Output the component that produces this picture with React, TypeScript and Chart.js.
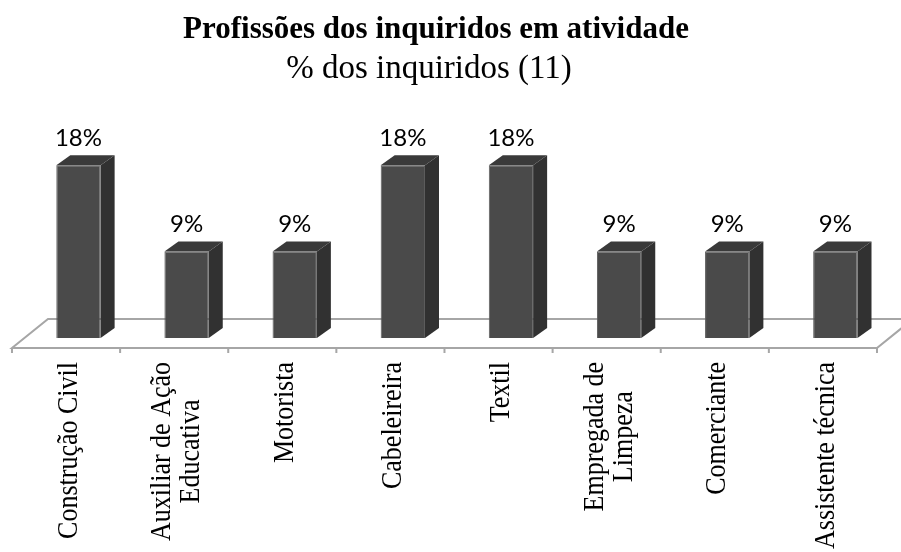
import React, { useEffect, useRef } from "react";
import { Chart, registerables } from "chart.js";

Chart.register(...registerables);

// ---- data ----
const titleText = "Profissões dos inquiridos em atividade";
const subtitleText = "% dos inquiridos (11)";
const categories: string[][] = [
  ["Construção Civil"],
  ["Auxiliar de Ação", "Educativa"],
  ["Motorista"],
  ["Cabeleireira"],
  ["Textil"],
  ["Empregada de", "Limpeza"],
  ["Comerciante"],
  ["Assistente técnica"],
];
const values: number[] = [18, 9, 9, 18, 18, 9, 9, 9];
const valueLabels: string[] = ["18%", "9%", "9%", "18%", "18%", "9%", "9%", "9%"];

// ---- style ----
const FRONT = "#4a4a4a";
const FRONT_EDGE = "#5c5c5c";
const SIDE = "#313131";
const TOP = "#3a3a3a";
const FLOOR = "#a6a6a6";
const BAR_DX = 14;
const BAR_DY = 10;
const FLOOR_FRONT_DY = 10;
const FLOOR_BACK_DY = 19;
const FLOOR_SLOPE = 36 / 29;
const LABEL_STRETCH = 1.12;

const plugin3d = {
  id: "bar3d",
  beforeDatasetsDraw(chart: any) {
    const ctx = chart.ctx;
    const xs = chart.scales.x;
    const ys = chart.scales.y;
    const base = ys.getPixelForValue(0);
    const fy = base + FLOOR_FRONT_DY;
    const by = base - FLOOR_BACK_DY;
    const fShift = -FLOOR_FRONT_DY * FLOOR_SLOPE;
    const bShift = FLOOR_BACK_DY * FLOOR_SLOPE;
    ctx.save();
    ctx.beginPath();
    ctx.moveTo(xs.left + fShift, fy);
    ctx.lineTo(xs.right + fShift, fy);
    ctx.lineTo(xs.right + bShift, by);
    ctx.lineTo(xs.left + bShift, by);
    ctx.closePath();
    ctx.fillStyle = "#ffffff";
    ctx.fill();
    ctx.strokeStyle = FLOOR;
    ctx.lineWidth = 2;
    ctx.stroke();
    // ticks
    const n = categories.length;
    const step = (xs.right - xs.left) / n;
    ctx.beginPath();
    for (let i = 0; i <= n; i++) {
      const x = xs.left + fShift + i * step;
      ctx.moveTo(x, fy);
      ctx.lineTo(x, fy + 5);
    }
    ctx.stroke();
    // category labels
    ctx.fillStyle = "#000";
    ctx.font = "26px 'Liberation Serif'";
    ctx.textAlign = "center";
    ctx.textBaseline = "middle";
    const lineH = 29;
    for (let i = 0; i < n; i++) {
      const lines = categories[i];
      const cx = xs.getPixelForValue(i) + fShift + 3;
      const w = Math.max(...lines.map((l) => ctx.measureText(l).width));
      ctx.save();
      ctx.translate(cx, fy + 14);
      ctx.rotate(-Math.PI / 2);
      ctx.scale(1, LABEL_STRETCH);
      lines.forEach((l, k) => {
        ctx.fillText(l, -w / 2, ((k - (lines.length - 1) / 2) * lineH) / LABEL_STRETCH);
      });
      ctx.restore();
    }
    ctx.restore();
  },
  afterDatasetsDraw(chart: any) {
    const ctx = chart.ctx;
    const meta = chart.getDatasetMeta(0);
    ctx.save();
    meta.data.forEach((el: any, i: number) => {
      const p = el.getProps(["x", "y", "base", "width"], true);
      const l = p.x - p.width / 2;
      const r = p.x + p.width / 2;
      // side
      ctx.beginPath();
      ctx.moveTo(r, p.y);
      ctx.lineTo(r + BAR_DX, p.y - BAR_DY);
      ctx.lineTo(r + BAR_DX, p.base - BAR_DY);
      ctx.lineTo(r, p.base);
      ctx.closePath();
      ctx.fillStyle = SIDE;
      ctx.fill();
      // top
      ctx.beginPath();
      ctx.moveTo(l, p.y);
      ctx.lineTo(l + BAR_DX, p.y - BAR_DY);
      ctx.lineTo(r + BAR_DX, p.y - BAR_DY);
      ctx.lineTo(r, p.y);
      ctx.closePath();
      ctx.fillStyle = TOP;
      ctx.fill();
      // value label
      ctx.fillStyle = "#000";
      ctx.font = "24px Lato";
      ctx.textAlign = "center";
      ctx.textBaseline = "middle";
      ctx.fillText(valueLabels[i], p.x, p.y - 27);
    });
    ctx.restore();
  },
  afterDraw(chart: any) {
    const ctx = chart.ctx;
    ctx.save();
    ctx.fillStyle = "#000";
    ctx.textAlign = "center";
    ctx.textBaseline = "alphabetic";
    ctx.font = "bold 31px 'Liberation Serif'";
    ctx.fillText(titleText, 436, 38);
    ctx.font = "33px 'Liberation Serif'";
    ctx.fillText(subtitleText, 429, 78);
    ctx.restore();
  },
};

export default function App() {
  const ref = useRef<HTMLCanvasElement>(null);
  useEffect(() => {
    if (!ref.current) return;
    const chart = new Chart(ref.current, {
      type: "bar",
      data: {
        labels: categories.map((c) => c.join(" ")),
        datasets: [
          {
            data: values,
            backgroundColor: FRONT,
            borderColor: FRONT_EDGE,
            borderWidth: 1,
            barPercentage: 0.41,
            categoryPercentage: 1,
            clip: false as any,
          },
        ],
      },
      options: {
        animation: false,
        responsive: false,
        devicePixelRatio: 1,
        layout: { padding: { left: 24.4, right: 11.6, top: 146, bottom: 214 } },
        plugins: {
          legend: { display: false },
          tooltip: { enabled: false },
          title: { display: false },
        },
        scales: {
          x: { display: false, offset: true, grid: { display: false } },
          y: { display: false, min: 0, max: 20 },
        },
      },
      plugins: [plugin3d],
    });
    return () => chart.destroy();
  }, []);
  return (
    <div style={{ position: "absolute", left: 0, top: 0, width: 901, height: 552, background: "#fff" }}>
      <canvas ref={ref} width={901} height={552} style={{ display: "block" }} />
    </div>
  );
}
